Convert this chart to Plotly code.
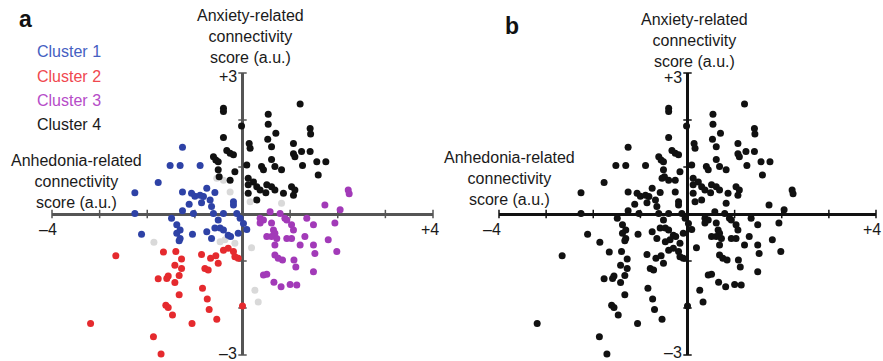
import plotly.graph_objects as go

W, H = 883, 361

# ---- data (anhedonia score, anxiety score) ----
cluster1 = [(-1.26, 1.42), (-1.52, 1.03), (-1.31, 1.03), (-0.89, 1.03), (-2.26, 0.45),
            (-2.26, 0.01), (-2.12, -0.43), (-1.77, 0.67), (-1.26, 0.47), (-1.07, 0.44),
            (-1.00, 0.38), (-0.89, 0.40), (-0.82, 0.37), (-1.12, 0.21), (-0.75, 0.55),
            (-0.58, 0.46), (-0.86, 0.24), (-0.68, 0.30), (-0.65, 0.16), (-1.26, 0.07),
            (-1.03, 0.01), (-0.61, 0.01), (-0.40, 0.01), (-0.19, 0.26), (-0.19, 0.19),
            (-1.49, -0.09), (-1.38, -0.23), (-1.31, -0.34), (-1.38, -0.41), (-1.31, -0.52),
            (-1.33, -0.57), (-1.05, -0.43), (-0.51, -0.13), (-0.58, -0.30), (-0.47, -0.30),
            (-0.40, -0.34), (-0.75, -0.38), (-0.30, -0.45), (-0.25, -0.48), (-0.05, -0.09),
            (0.02, -0.20), (0.09, -0.33), (-0.09, -0.41), (-0.12, 0.01), (-0.65, -0.52)]
cluster2 = [(-2.66, -0.89), (-3.19, -2.33), (-1.87, -2.61), (-1.71, -2.98), (-1.66, -0.81),
            (-1.40, -0.80), (-1.28, -0.96), (-1.42, -1.09), (-1.28, -1.16), (-1.33, -1.31),
            (-1.77, -1.38), (-1.59, -1.37), (-1.56, -1.32), (-1.42, -1.46), (-1.33, -1.72),
            (-1.61, -1.94), (-1.56, -1.99), (-1.47, -2.15), (-1.06, -2.33), (-0.86, -0.86),
            (-0.67, -0.94), (-0.56, -0.89), (-0.51, -1.05), (-0.79, -1.16), (-0.72, -1.19),
            (-0.40, -0.77), (-0.30, -0.73), (-0.19, -0.80), (-0.16, -0.91), (-0.09, -0.94),
            (-0.84, -1.58), (-0.74, -1.81), (-0.70, -2.03), (-0.54, -2.24), (0.00, -1.96)]
cluster3 = [(2.22, 0.51), (2.24, 0.43), (1.73, 0.19), (2.05, 0.09), (0.58, 0.05),
            (0.79, 0.01), (0.37, -0.09), (0.44, -0.13), (0.37, -0.19), (0.61, -0.19),
            (0.89, -0.09), (0.93, -0.13), (1.03, -0.23), (1.07, -0.34), (1.35, -0.09),
            (1.49, -0.23), (1.94, -0.19), (0.65, -0.34), (0.68, -0.41), (0.51, -0.48),
            (0.61, -0.48), (0.72, -0.52), (0.93, -0.52), (1.03, -0.52), (0.68, -0.66),
            (1.31, -0.48), (1.21, -0.66), (1.49, -0.66), (1.52, -0.84), (1.80, -0.55),
            (1.98, -0.80), (0.68, -0.87), (0.75, -0.94), (0.84, -0.98), (1.08, -0.98),
            (1.12, -1.13), (1.49, -1.23), (0.44, -1.30), (0.51, -1.28), (0.66, -1.45),
            (0.81, -1.55), (1.00, -1.50), (1.14, -1.51)]
cluster4 = [(-0.40, 2.25), (-0.40, 2.18), (1.21, 2.34), (-0.02, 1.87), (0.54, 2.12),
            (0.54, 1.91), (0.70, 1.72), (1.42, 1.82), (1.43, 1.70), (-0.40, 1.63),
            (0.14, 1.50), (0.16, 1.40), (0.53, 1.59), (0.61, 1.43), (1.07, 1.50),
            (1.07, 1.28), (1.10, 1.22), (1.24, 1.33), (1.42, 1.33), (0.61, 1.16),
            (-0.33, 1.35), (-0.26, 1.29), (-0.61, 1.22), (-0.56, 1.15), (-0.51, 1.11),
            (-0.19, 1.26), (1.56, 1.11), (1.75, 1.11), (1.26, 1.03), (0.09, 1.04),
            (0.40, 1.01), (0.44, 0.94), (0.68, 1.01), (0.82, 0.94), (-0.51, 0.94),
            (-0.16, 0.90), (1.59, 0.83), (-0.26, 0.72), (0.12, 0.76), (0.23, 0.68),
            (0.12, 0.62), (0.30, 0.58), (0.37, 0.51), (0.51, 0.62), (0.61, 0.58),
            (0.49, 0.45), (0.12, 0.44), (0.30, 0.30), (0.68, 0.51), (0.86, 0.44),
            (1.03, 0.58), (1.10, 0.51), (1.07, 0.40), (-0.49, 0.79)]
unclustered = [(-1.86, -0.60), (0.19, -0.72), (0.26, -1.62), (0.33, -1.87), (-0.26, 0.47),
               (0.16, 0.26), (0.82, 0.23), (-0.54, 0.76), (-0.47, -0.59), (-0.37, -0.55),
               (-0.16, -0.62), (-0.40, 0.72)]

cluster_names = ["Cluster 1", "Cluster 2", "Cluster 3", "Cluster 4"]
cluster_colors = ["#2e42a6", "#e52a2e", "#a23ab8", "#111111"]
label_colors = ["#4560c2", "#f0484f", "#b64cc8", "#1a1a1a"]
gray_color = "#d9d9d9"

x_ticks = [-4, -3, -2, -1, 0, 1, 2, 3, 4]
y_ticks = [-3, -2, -1, 0, 1, 2, 3]
x_end_labels = ["\u20134", "+4"]
y_end_labels = ["+3", "\u20133"]
x_title = "Anhedonia-related<br>connectivity<br>score (a.u.)"
y_title = "Anxiety-related<br>connectivity<br>score (a.u.)"

# ---- layout helpers ----
def px(x):
    return x / W

def py(y):
    return 1 - y / H

FONT = "Liberation Sans, Arial, sans-serif"

fig = go.Figure()

panels = [
    dict(xa="x", ya="y", axis_color="#555555"),
    dict(xa="x2", ya="y2", axis_color="#111111"),
]
ydom = (py(355), py(73))

# tick marks on the crossing axes
for p in panels:
    fig.add_trace(go.Scatter(
        x=x_ticks, y=[0] * len(x_ticks), xaxis=p["xa"], yaxis=p["ya"], mode="markers",
        marker=dict(symbol="line-ns", size=6, line=dict(width=1.5, color=p["axis_color"])),
        hoverinfo="skip", showlegend=False, cliponaxis=False))
    fig.add_trace(go.Scatter(
        x=[0] * len(y_ticks), y=y_ticks, xaxis=p["xa"], yaxis=p["ya"], mode="markers",
        marker=dict(symbol="line-ew", size=6, line=dict(width=1.5, color=p["axis_color"])),
        hoverinfo="skip", showlegend=False, cliponaxis=False))

# panel a
fig.add_trace(go.Scatter(
    x=[p[0] for p in unclustered], y=[p[1] for p in unclustered], mode="markers",
    marker=dict(size=7, color=gray_color), xaxis="x", yaxis="y", showlegend=False,
    cliponaxis=False))
for pts, name, col in zip([cluster1, cluster2, cluster3, cluster4], cluster_names, cluster_colors):
    fig.add_trace(go.Scatter(
        x=[p[0] for p in pts], y=[p[1] for p in pts], mode="markers", name=name,
        marker=dict(size=7, color=col), xaxis="x", yaxis="y", showlegend=False,
        cliponaxis=False))

# panel b: all subjects
all_pts = cluster1 + cluster2 + cluster3 + cluster4 + unclustered
fig.add_trace(go.Scatter(
    x=[p[0] for p in all_pts], y=[p[1] for p in all_pts], mode="markers",
    marker=dict(size=7, color="#111111"), xaxis="x2", yaxis="y2", showlegend=False,
    cliponaxis=False))

def axis_style(dom, rng, color, anchor):
    return dict(domain=dom, range=rng, showgrid=False, showticklabels=False, ticks="",
                showline=False, zeroline=True, zerolinecolor=color, zerolinewidth=2.5,
                fixedrange=True, anchor=anchor)

fig.update_layout(
    width=W, height=H, margin=dict(l=0, r=0, t=0, b=0, autoexpand=False),
    paper_bgcolor="white", plot_bgcolor="white",
    font=dict(family=FONT, size=16, color="#1a1a1a"),
    xaxis=axis_style((px(52), px(433)), [-4, 4], panels[0]["axis_color"], "y"),
    yaxis=axis_style(ydom, [-3, 3], panels[0]["axis_color"], "x"),
    xaxis2=axis_style((px(499), px(876)), [-4, 4], panels[1]["axis_color"], "y2"),
    yaxis2=axis_style(ydom, [-3, 3], panels[1]["axis_color"], "x2"),
    showlegend=False,
)

ann = []
def text(x, y, s, size=16, color="#1a1a1a", bold=False, xanchor="center", yanchor="middle"):
    ann.append(dict(x=px(x), y=py(y), xref="paper", yref="paper", text=f"<b>{s}</b>" if bold else s,
                    showarrow=False, xanchor=xanchor, yanchor=yanchor,
                    font=dict(family=FONT, size=size, color=color)))

# panel labels
text(25, 19, "a", size=23, color="#111111", bold=True)
text(512, 26, "b", size=23, color="#111111", bold=True)

# cluster labels
for i, (name, col) in enumerate(zip(cluster_names, label_colors)):
    text(35, 52 + 24 * i, name, color=col, xanchor="left")

# axis titles
text(250, 36, y_title)
text(694, 40, y_title)
text(76, 182, x_title)
text(509, 179, x_title)

# end labels
text(48, 229, x_end_labels[0]); text(430, 229, x_end_labels[1])
text(492, 229, x_end_labels[0]); text(872, 229, x_end_labels[1])
text(239, 77, y_end_labels[0], xanchor="right"); text(239, 353, y_end_labels[1], xanchor="right")
text(684, 78, y_end_labels[0], xanchor="right"); text(684, 352, y_end_labels[1], xanchor="right")

fig.update_layout(annotations=ann)
fig.write_html("out.html", config={"displayModeBar": False},
               post_script="document.body.style.margin='0';document.body.style.overflow='hidden';")
